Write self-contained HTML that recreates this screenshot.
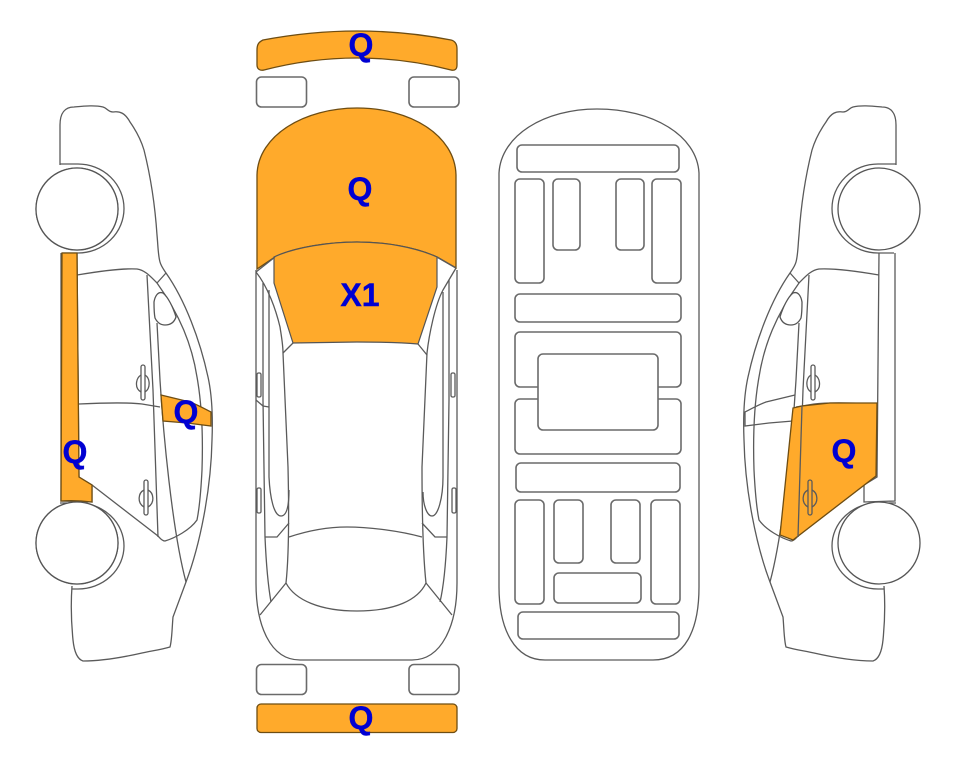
<!DOCTYPE html>
<html>
<head>
<meta charset="utf-8">
<style>
html,body{margin:0;padding:0;background:#fff;}
svg{display:block;}
.l{fill:none;stroke:#5a5a5a;stroke-width:1.3;}
.r{fill:#fff;stroke:#6a6a6a;stroke-width:1.6;}
.o{fill:#FFAA2B;stroke:#6e4d12;stroke-width:1.3;}
.w{fill:#fff;stroke:#555;stroke-width:1.3;}
text{font-family:"Liberation Sans",sans-serif;font-weight:bold;font-size:32px;fill:#0000D2;stroke:#0000D2;stroke-width:0.4;text-anchor:middle;}
</style>
</head>
<body>
<svg width="963" height="768" viewBox="0 0 963 768" xmlns="http://www.w3.org/2000/svg">
<defs>
<g id="side">
  <path class="l" d="M60 165 L60 125 C60 113 65 107 74 107 C85 106 95 105 103 107 C107 108 108 112 113 112 C120 111 125 113 130 122 C137 132 141 140 144 150 C151 178 155 205 157 235 C158 245 158 255 160 262 C161 266 164 270 166 273 C185 300 200 340 208 377 C212 395 213 415 212 440 C211 490 200 545 186 582 L173 617 C172 628 172 640 170 647 C160 650 150 651 142 653 C120 658 100 661 83 661 C77 659 74 650 73 640 C71 620 71 600 72 586"/>
  <path class="l" d="M60 164 L78 164 A46 44.500 0 0 1 78 253 L62 253"/>
  <path class="l" d="M60 503 L78 503 A46 43 0 0 1 78 589 L72 589"/>
  <path class="l" d="M77 275 C95 272 120 268 137 269 C145 270 151 277 157 283 C180 315 192 345 197 377 C202 405 203 440 202 470 C201 490 200 505 197 520 C190 530 175 538 165 541 C162 541 160 538 158 536 L92 485"/>
  <path class="l" d="M147 275 L153 390 L158 537"/>
  <path class="l" d="M157 323 L160 380 C163 430 172 530 186 582"/>
  <path class="l" d="M166 273 L157 283"/>
  <path class="w" d="M154 302 C155 296 158 291 163 293 C168 297 173 307 176 317 C174 323 170 325 165 325 C160 325 157 322 155 318 C154 313 154 307 154 302Z"/>
  <path class="l" d="M79 404 C100 403 125 402 142 404 L160 407"/>
  <path class="l" d="M61 253 L61 501 L92 502 L92 485 L79 477 L77 253"/>
  <rect class="l" x="141" y="365" width="4" height="35" rx="2"/>
  <path class="l" d="M141 375 C136 378 134 388 141 392 M145 375 C150 378 151 388 145 392"/>
  <rect class="l" x="144" y="480" width="4" height="35" rx="2"/>
  <path class="l" d="M144 490 C138 493 137 503 144 507 M148 490 C154 493 155 503 148 507"/>
  <circle class="w" cx="77" cy="209" r="41"/>
  <circle class="w" cx="77" cy="543" r="41"/>
</g>
</defs>

<!-- Left side -->
<use href="#side"/>
<path class="o" d="M62 253 L77 253 L79 477 L92 485 L92 502 Q76 500 61 501 Z"/>
<path class="o" d="M161 395 L190 402 C198 405 205 409 211 412 L211 426 L187 423 L163 421 Z"/>
<circle class="w" cx="77" cy="209" r="41"/>
<circle class="w" cx="77" cy="543" r="41"/>

<!-- Right side -->
<g transform="translate(956,0) scale(-1,1)">
  <use href="#side"/>
  <path class="l" d="M161 395 L190 402 C198 405 205 409 211 412 L211 426 L187 423 L163 421"/>
  <path class="o" d="M79 403 L126 403 L154 406 L163 408 L176 535 L163 540 L80 476 Z"/>
  <path class="l" d="M154 406 L158 537"/>
  <rect class="l" x="144" y="480" width="4" height="35" rx="2"/>
  <path class="l" d="M144 490 C138 493 137 503 144 507 M148 490 C154 493 155 503 148 507"/>
</g>

<!-- Top view -->
<path class="o" d="M257 50 C257 44 259 42 263 40 C295 34 325 31 357 31 C390 31 420 34 451 40 C455 41 457 44 457 49 L457 65 C457 69 455 71 451 70 C420 62 390 58 357 58 C325 58 295 62 264 70 C260 71 257 69 257 65 Z"/>
<rect class="r" x="256.500" y="77" width="50" height="30" rx="5"/>
<rect class="r" x="409" y="77" width="50" height="30" rx="5"/>
<rect class="r" x="256.500" y="664.500" width="50" height="30" rx="5"/>
<rect class="r" x="409" y="664.500" width="50" height="30" rx="5"/>
<rect class="o" x="257" y="704" width="200" height="28.500" rx="4"/>

<path class="l" d="M256 270 L256 583 C256 625 270 660 300 660 L412 660 C442 660 457 625 457 583 L457 270"/>
<path class="l" d="M263 283 L263 400 L265 537 C266 560 268 585 271 602"/>
<path class="l" d="M269 290 L269 477 C270 498 274 516 281 516 C287 516 289 505 289 490"/>
<path class="l" d="M449 280 L449 400 L447 537 C446 560 444 585 440 602"/>
<path class="l" d="M443 292 L443 477 C443 498 438 516 432 516 C427 516 423 505 423 492"/>
<path class="l" d="M256 272 C268 287 276 310 280 327 C282 340 283 345 283 353 L288 467 C289 510 289 555 286 583 C295 600 320 611 357 611 C395 611 418 600 426 583 C423 555 422 510 422 467 L427 353 C429 335 435 305 443 290 L456 268"/>
<path class="l" d="M283 353 L293 343 M418 344 L427 355"/>
<path class="l" d="M289 537 C310 530 330 527 347 527 C370 527 400 531 422 537"/>
<path class="l" d="M265 537 L277 537 L289 523 M422 523 L435 537 L447 537"/>
<path class="l" d="M260 615 L286 583 M452 615 L426 583"/>
<path class="l" d="M256 400 L263 406 L269 407"/>
<rect class="l" x="257" y="373" width="4" height="24" rx="1.500"/>
<rect class="l" x="257" y="488" width="4" height="25" rx="1.500"/>
<rect class="l" x="451" y="373" width="4" height="24" rx="1.500"/>
<rect class="l" x="452" y="488" width="4" height="25" rx="1.500"/>

<path class="o" d="M257 269 L257 175 C258 135 305 108 357 108 C410 108 455 135 456 175 L456 268 L437 257 C415 247 385 242 357 242 C330 242 295 247 275 257 Z"/>
<path fill="#FFAA2B" stroke="#555" stroke-width="1.200" d="M274 257 C295 247 330 242 357 242 C385 242 415 247 437 257 L437 287 L418 344 C395 342 375 342 357 342 L293 343 L274 283 Z"/>
<path class="l" d="M256 272 L275 257 M456 268 L437 257"/>

<!-- Underbody -->
<path class="l" d="M499 587 L499 173 C501 135 545 109 597 109 C652 109 697 135 699 173 L699 587 C699 630 685 660 653 660 L545 660 C515 660 499 630 499 587 Z"/>
<rect class="r" x="517" y="145" width="162" height="27" rx="5"/>
<rect class="r" x="515" y="179" width="29" height="104" rx="5"/>
<rect class="r" x="553" y="179" width="27" height="71" rx="5"/>
<rect class="r" x="616" y="179" width="28" height="71" rx="5"/>
<rect class="r" x="652" y="179" width="29" height="104" rx="5"/>
<rect class="r" x="515" y="294" width="166" height="28" rx="5"/>
<rect class="r" x="515" y="332" width="166" height="55" rx="5"/>
<rect class="r" x="515" y="399" width="166" height="55" rx="5"/>
<rect class="r" x="538" y="354" width="120" height="76" rx="5"/>
<rect class="r" x="516" y="463" width="164" height="29" rx="5"/>
<rect class="r" x="515" y="500" width="29" height="104" rx="5"/>
<rect class="r" x="554" y="500" width="29" height="63" rx="5"/>
<rect class="r" x="611" y="500" width="29" height="63" rx="5"/>
<rect class="r" x="651" y="500" width="29" height="104" rx="5"/>
<rect class="r" x="554" y="573" width="87" height="30" rx="5"/>
<rect class="r" x="518" y="612" width="161" height="27" rx="5"/>

<!-- Labels -->
<text x="361" y="56">Q</text>
<text x="360" y="200">Q</text>
<text x="360" y="306">X1</text>
<text x="361" y="729">Q</text>
<text x="75" y="463">Q</text>
<text x="186" y="423">Q</text>
<text x="844" y="462">Q</text>
</svg>
</body>
</html>
